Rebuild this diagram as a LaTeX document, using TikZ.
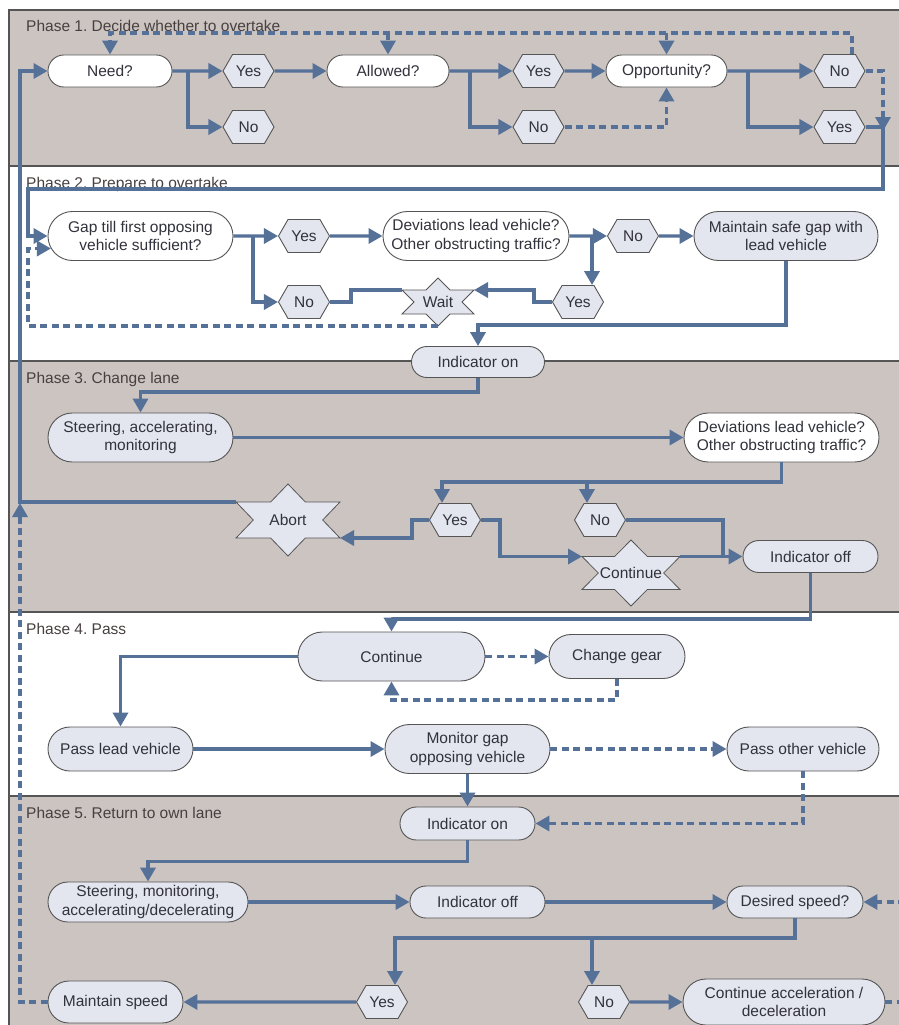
\documentclass[tikz,border=0pt]{standalone}
\usepackage{fontspec}
\setmainfont{Liberation Sans}
\usetikzlibrary{arrows.meta,shapes.symbols,calc}
\frenchspacing
\definecolor{band}{RGB}{204,196,193}
\definecolor{nfill}{RGB}{227,230,239}
\definecolor{flowc}{RGB}{86,113,152}
\definecolor{bord}{RGB}{85,85,85}
\definecolor{txt}{RGB}{50,50,60}
\definecolor{framec}{RGB}{85,85,85}
\definecolor{labc}{RGB}{72,64,64}
\newcommand{\mkhexstar}[6]{%
  \draw[draw=bord, line width=0.8pt, fill=nfill] (#2,#3-#5) -- (#2+#4/3,#3-#5/2) -- (#2+#4,#3-#5/2) -- (#2+2*#4/3,#3) -- (#2+#4,#3+#5/2) -- (#2+#4/3,#3+#5/2) -- (#2,#3+#5) -- (#2-#4/3,#3+#5/2) -- (#2-#4,#3+#5/2) -- (#2-2*#4/3,#3) -- (#2-#4,#3-#5/2) -- (#2-#4/3,#3-#5/2) -- cycle;
  \node[inner sep=0pt] (#1) at (#2,#3) {#6};
  \coordinate (#1-ul) at (#2-#4,#3-#5/2);
  \coordinate (#1-ur) at (#2+#4,#3-#5/2);
  \coordinate (#1-ll) at (#2-#4,#3+#5/2);
  \coordinate (#1-lr) at (#2+#4,#3+#5/2);
  \coordinate (#1-b) at (#2,#3+#5);
  \coordinate (#1-t) at (#2,#3-#5);
}
\begin{document}
\begin{tikzpicture}[x=1pt,y=-1pt,
  every node/.style={font=\fontsize{15.5}{18.6}\selectfont, text=txt},
  pill/.style n args={3}{draw=bord, line width=0.9pt, rectangle, rounded corners=#3pt, minimum width=#1pt, minimum height=#2pt, inner sep=1pt, align=center},
  qfill/.style={fill=white},
  afill/.style={fill=nfill},
  hexa/.style={signal, signal to=east and west, signal from=nowhere, signal pointer angle=120, draw=bord, line width=0.9pt, fill=nfill, minimum width=51pt, minimum height=33pt, inner sep=1pt},
  fl/.style={draw=flowc, line width=3.4pt},
  fa/.style={fl, -{Triangle[length=14pt,width=15pt]}},
  dl/.style={fl, dash pattern=on 7pt off 4.5pt},
  da/.style={dl, -{Triangle[length=14pt,width=15pt]}},
  phase/.style={anchor=base west, inner sep=0pt, text=labc}
]
\useasboundingbox (0,0) rectangle (899,1025);
\clip (0,0) rectangle (899,1025);
\fill[white] (0,0) rectangle (899,1025);
% bands
\draw[draw=framec, line width=1.3pt, fill=band] (9,10) rectangle (910,166);
\draw[draw=framec, line width=1.3pt, fill=white] (9,166) rectangle (910,361);
\draw[draw=framec, line width=1.3pt, fill=band] (9,361) rectangle (910,612);
\draw[draw=framec, line width=1.3pt, fill=white] (9,612) rectangle (910,796);
\draw[draw=framec, line width=1.3pt, fill=band] (9,796) rectangle (910,1040);
\node[phase] (ph1) at (26,31.5) {Phase 1. Decide whether to overtake};
\node[phase] (ph2) at (26,188) {Phase 2. Prepare to overtake};
\node[phase] (ph3) at (26,383) {Phase 3. Change lane};
\node[phase] (ph4) at (26,634) {Phase 4. Pass};
\node[phase] (ph5) at (26,818.5) {Phase 5. Return to own lane};
% phase 1 nodes
\node[pill={124}{32}{15.9}, qfill] (need) at (110,71) {Need?};
\node[hexa] (y1) at (248.5,71) {Yes};
\node[hexa] (n1) at (248.5,127) {No};
\node[pill={122}{32}{15.9}, qfill] (allowed) at (388,71) {Allowed?};
\node[hexa] (y2) at (538.5,71) {Yes};
\node[hexa] (n2) at (538.5,127) {No};
\node[pill={121}{32}{15.9}, qfill] (opp) at (666.5,71) {Opportunity?};
\node[hexa] (n3) at (839.5,71) {No};
\node[hexa] (y3) at (839.5,127) {Yes};
% phase 2 nodes
\node[pill={185}{49}{24.4}, qfill] (gap) at (140.5,236) {Gap till first opposing\\vehicle sufficient?};
\node[hexa] (y4) at (304,236) {Yes};
\node[hexa] (n4) at (304,302) {No};
\node[pill={186}{49}{24.4}, qfill] (dev1) at (476,236) {Deviations lead vehicle?\\Other obstructing traffic?};
\node[hexa] (n5) at (633,236) {No};
\node[hexa] (y5) at (578,302) {Yes};
\node[pill={184}{49}{24.4}, afill] (maint1) at (786,236) {Maintain safe gap with\\lead vehicle};
\mkhexstar{wait}{438}{302}{36}{24}{Wait}
\node[pill={133}{31}{15.4}, afill] (ind1) at (478,362) {Indicator on};
% phase 3 nodes
\node[pill={185}{49}{24.4}, afill] (steer1) at (140.5,437.5) {Steering, accelerating,\\monitoring};
\node[pill={195}{49}{24.4}, qfill] (dev2) at (781.5,437.5) {Deviations lead vehicle?\\Other obstructing traffic?};
\node[hexa] (y6) at (455,520) {Yes};
\node[hexa] (n6) at (600,520) {No};
\mkhexstar{abort}{288}{520}{52}{36}{Abort}
\mkhexstar{cont}{631}{573}{49}{33}{Continue}
\node[pill={135}{32}{15.9}, afill] (indoff1) at (810.5,556.5) {Indicator off};
% phase 4 nodes
\node[pill={187}{49}{24.4}, afill] (cont2) at (391.5,656.5) {Continue};
\node[pill={136}{44}{21.9}, afill] (gear) at (617,656.5) {Change gear};
\node[pill={145}{44}{21.9}, afill] (pass1) at (120.5,749) {Pass lead vehicle};
\node[pill={165}{49}{24.4}, afill] (mon) at (467.5,749) {Monitor gap\\opposing vehicle};
\node[pill={152}{44}{21.9}, afill] (passo) at (803,749) {Pass other vehicle};
% phase 5 nodes
\node[pill={135}{33}{16.4}, afill] (ind2) at (467.5,823.5) {Indicator on};
\node[pill={200}{40}{19.9}, afill] (steer2) at (148,902) {Steering, monitoring,\\accelerating/decelerating};
\node[pill={135}{32}{15.9}, afill] (indoff2) at (477.5,902) {Indicator off};
\node[pill={136}{32}{15.9}, afill] (des) at (795,902) {Desired speed?};
\node[hexa] (y7) at (382,1002) {Yes};
\node[hexa] (n7) at (604,1002) {No};
\node[pill={135}{42}{20.9}, afill] (maint2) at (115.5,1002) {Maintain speed};
\node[pill={202}{46}{22.9}, afill] (contacc) at (784,1002) {Continue acceleration /\\deceleration};
% coordinates
\coordinate (b1) at (188,71);
\coordinate (b2) at (470,71);
\coordinate (b3) at (748,71);
\coordinate (loop) at (852,33);
\coordinate (rx) at (883,131);
\coordinate (p2a) at (883,189);
\coordinate (p2b) at (28,189);
\coordinate (p2c) at (28,326);
\coordinate (p2d) at (786,325);
\coordinate (b4) at (253,236);
\coordinate (b5) at (592,236);
\coordinate (rail) at (20,71);
\coordinate (rail2) at (20,503);
\coordinate (p3a) at (781.5,482);
\coordinate (p3b) at (723,556.5);
\coordinate (p5a) at (795,938);
\coordinate (edge1) at (905,1002);
\coordinate (edge2) at (905,902);
\path ([xshift=-13pt]y6.north) coordinate (y6t);
\path ([xshift=-13pt]n6.north) coordinate (n6t);
\path ([xshift=13pt]y7.north) coordinate (y7t);
\path ([xshift=-12pt]n7.north) coordinate (n7t);
% phase 1 connectors
\draw[fa] (need) -- (y1);
\draw[fa] (b1) |- (n1);
\draw[fa] (y1) -- (allowed);
\draw[fa] (allowed) -- (y2);
\draw[fa] (b2) |- (n2);
\draw[fa] (y2) -- (opp);
\draw[da] (n2) -| (opp.south);
\draw[fa] (opp) -- (n3);
\draw[fa] (b3) |- (y3);
\draw[da] (n3.north -| loop) -- (loop) -- (loop -| need.north) -- (need.north);
\draw[da] (loop -| allowed.north) -- (allowed.north);
\draw[da] (loop -| opp.north) -- (opp.north);
\draw[da] (n3.east) -| (rx);
\draw[fa] (y3.east) -| (p2a) -- (p2b) |- (gap.west);
\draw[fa] (abort-ul) -| (rail) -- (need.west);
% phase 2 connectors
\draw[fa] (gap) -- (y4);
\draw[fa] (b4) |- (n4);
\draw[fa] (y4) -- (dev1);
\draw[fa] (dev1) -- (n5);
\draw[fa] (b5) -- (b5 |- y5.north);
\draw[fa] (n5) -- (maint1);
\draw[fl] (n4.east) -- ++(21,0) |- (wait-ul);
\draw[fa] (y5.west) -- ++(-18,0) |- (wait-ur);
\draw[da] (wait-b) -- (wait-b -| p2c) |- ([xshift=3.4pt,yshift=-12.5pt]gap.west);
\draw[fa] (maint1.south) -- (p2d) -| (ind1.north);
\draw[fa] (ind1.south) -- ++(0,14) -| (steer1.north);
% phase 3 connectors
\draw[fa] (steer1) -- (dev2);
\draw[fa] (dev2.south) -- (p3a) -| (y6t);
\draw[fa] (n6t |- p3a) -- (n6t);
\draw[fa] (y6.west) -- ++(-17,0) |- (abort-lr);
\draw[fa] (y6.east) -- ++(19,0) |- (cont-ul);
\draw[fl] (n6.east) -| (p3b);
\draw[fa] (cont-ur) -- (indoff1.west);
\draw[fa] (indoff1.south) -- ++(0,46) -| (cont2.north);
% phase 4 connectors
\draw[da] (cont2) -- (gear);
\draw[da] (gear.south) -- ++(0,21) -| (cont2.south);
\draw[fa] (cont2.west) -| (pass1.north);
\draw[fa] (pass1) -- (mon);
\draw[da] (mon) -- (passo);
\draw[fa] (mon.south) -- (ind2.north);
\draw[da] (passo.south) |- (ind2.east);
% phase 5 connectors
\draw[fa] (ind2.south) -- ++(0,21) -| (steer2.north);
\draw[fa] (steer2) -- (indoff2);
\draw[fa] (indoff2) -- (des);
\draw[fa] (des.south) -- (p5a) -| (y7t);
\draw[fa] (n7t |- p5a) -- (n7t);
\draw[fa] (y7) -- (maint2);
\draw[da] (maint2.west) -| (rail2);
\draw[fa] (n7) -- (contacc);
\draw[dl] (contacc.east) -- (edge1);
\draw[da] (edge2) -- (des.east);
\end{tikzpicture}
\end{document}
